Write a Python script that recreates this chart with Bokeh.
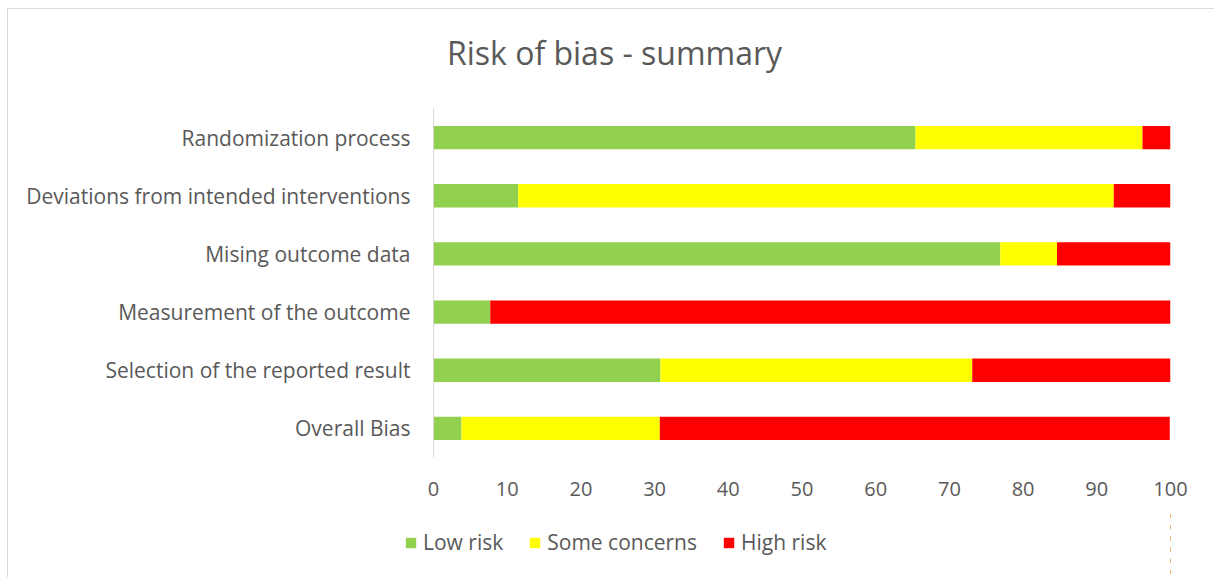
from bokeh.plotting import figure
from bokeh.layouts import column
from bokeh.models import (FactorRange, Range1d, Legend, LegendItem, Label,
                          FixedTicker, Span, ColumnDataSource)
from bokeh.embed import file_html
from bokeh.resources import INLINE

categories = ["Randomization process", "Deviations from intended interventions",
              "Mising outcome data", "Measurement of the outcome",
              "Selection of the reported result", "Overall Bias"]
low_risk = [65.4, 11.5, 76.9, 7.7, 30.8, 3.8]
some_concerns = [30.8, 80.8, 7.7, 0.0, 42.3, 26.9]
high_risk = [3.8, 7.7, 15.4, 92.3, 26.9, 69.2]
series_names = ["Low risk", "Some concerns", "High risk"]
series_colors = ["#92d050", "#ffff00", "#ff0000"]
x_ticks = [0, 10, 20, 30, 40, 50, 60, 70, 80, 90, 100]
chart_title = "Risk of bias - summary"

FONT = "Open Sans"
TXT = "#595959"

# layout (page pixels)
CANVAS_X, CANVAS_Y = 8, 9
FRAME_L, ZERO_X, FRAME_R = 386, 433, 1170
FRAME_T, FRAME_B = 108, 457
W = 1206
TITLE_H = 90
MAIN_BOTTOM = 510
LEG_H = 67
LABEL_END = 410

x_start = -(ZERO_X - FRAME_L) / (FRAME_R - ZERO_X) * 100


def strip(height, x_range, y_range):
    f = figure(output_backend="svg", toolbar_location=None, width=W, height=height,
               x_range=x_range, y_range=y_range, x_axis_type=None, y_axis_type=None,
               min_border=0, title=None)
    f.outline_line_color = None
    f.xgrid.grid_line_color = None
    f.ygrid.grid_line_color = None
    f.background_fill_color = "white"
    f.border_fill_color = "white"
    f.min_border_left = FRAME_L - CANVAS_X
    f.min_border_right = CANVAS_X + W - FRAME_R
    return f


source = ColumnDataSource(dict(cat=categories, low=low_risk, some=some_concerns, high=high_risk))

# title strip
tt = strip(TITLE_H, Range1d(0, 1), Range1d(0, 1))
tt.add_layout(Label(x=614 - FRAME_L, y=TITLE_H - (52 - CANVAS_Y), x_units="screen",
                    y_units="screen", text=chart_title, text_align="center",
                    text_baseline="middle", text_font=FONT, text_font_size="32px",
                    text_color=TXT))

# main chart
p = figure(output_backend="svg", toolbar_location=None,
           y_range=FactorRange(*list(reversed(categories))),
           x_range=Range1d(x_start, 100), title=None,
           frame_width=FRAME_R - FRAME_L, frame_height=FRAME_B - FRAME_T)
p.min_border_left = FRAME_L - CANVAS_X
p.min_border_right = CANVAS_X + W - FRAME_R
p.min_border_top = FRAME_T - CANVAS_Y - TITLE_H
p.min_border_bottom = MAIN_BOTTOM - FRAME_B
p.outline_line_color = None
p.xgrid.grid_line_color = None
p.ygrid.grid_line_color = None
p.background_fill_color = "white"
p.border_fill_color = "white"

p.hbar_stack(["low", "some", "high"], y="cat", height=0.4, source=source,
             color=series_colors, line_color=None)

p.add_layout(Span(location=0, dimension="height", line_color="#d9d9d9", line_width=1))

p.xaxis.ticker = FixedTicker(ticks=x_ticks)
p.xaxis.axis_line_color = None
p.xaxis.major_tick_line_color = None
p.xaxis.minor_tick_line_color = None
p.xaxis.major_tick_out = 0
p.xaxis.major_tick_in = 0
p.xaxis.major_label_text_font = FONT
p.xaxis.major_label_text_font_size = "20px"
p.xaxis.major_label_text_color = TXT
p.xaxis.major_label_standoff = 24

p.yaxis.axis_line_color = None
p.yaxis.major_tick_line_color = None
p.yaxis.minor_tick_line_color = None
p.yaxis.major_tick_out = 0
p.yaxis.major_tick_in = 0
p.yaxis.major_label_text_font = FONT
p.yaxis.major_label_text_font_size = "21px"
p.yaxis.major_label_text_color = TXT
p.yaxis.major_label_standoff = FRAME_L - LABEL_END

# legend strip below the chart (bars lie outside its visible x range)
lg = strip(LEG_H, Range1d(-2, -1), FactorRange(*categories))
lr = lg.hbar_stack(["low", "some", "high"], y="cat", height=0.4, source=source,
                   color=series_colors, line_color=None)
items = [LegendItem(label=n, renderers=[rr]) for n, rr in zip(series_names, lr)]
legend = Legend(items=items, orientation="horizontal",
                location=(406 - FRAME_L - 2, 21),
                glyph_width=13, glyph_height=13, label_text_font=FONT,
                label_text_font_size="21px", label_text_color=TXT,
                border_line_color=None, background_fill_alpha=0,
                spacing=25, label_standoff=6, padding=0, margin=0)
lg.add_layout(legend)

layout = column(tt, p, lg, spacing=0)
layout.styles = {"margin-left": "7px", "margin-top": "8px",
                 "border-left": "1px solid #d9d9d9", "border-top": "1px solid #d9d9d9",
                 "box-sizing": "border-box"}

open("out.html", "w").write(file_html(layout, INLINE))
